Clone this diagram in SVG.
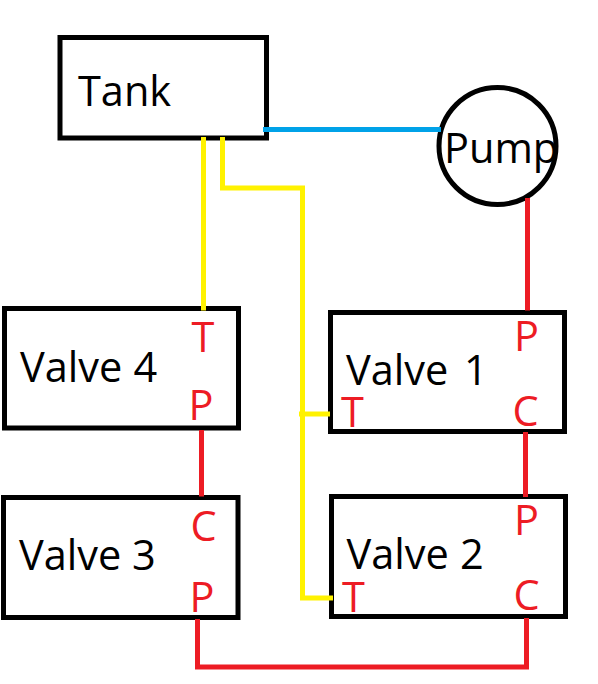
<svg xmlns="http://www.w3.org/2000/svg" width="598" height="684" viewBox="0 0 598 684">
<style>
text{font-family:"Open Sans","Noto Sans","Liberation Sans",sans-serif;font-size:41.500px}
.box{fill:#fff;stroke:#000;stroke-width:5}
.lbl{fill:#000}
.port{fill:#ed1c24}
.w{fill:none;stroke-width:5}
.y{stroke:#fff200}
.r{stroke:#ed1c24}
.b{stroke:#00a2e8}
</style>
<rect width="598" height="684" fill="#fff"/>
<g id="tank"><rect class="box" x="60" y="37.5" width="206.500" height="100.500"/><text class="lbl" x="78" y="106">Tank</text></g>
<g id="pump"><circle class="box" cx="497.500" cy="146" r="58.500"/><text class="lbl" x="444" y="163">Pump</text></g>
<g id="valve4"><rect class="box" x="4.500" y="308.500" width="234" height="119.500"/><text class="lbl" x="20" y="382">Valve <tspan x="133.500">4</tspan></text><text class="port" x="191.500" y="352">T</text><text class="port" x="188.500" y="419.500">P</text></g>
<g id="valve3"><rect class="box" x="3.500" y="497.500" width="234.500" height="120"/><text class="lbl" x="19" y="569.500">Valve <tspan x="132">3</tspan></text><text class="port" x="190.500" y="541">C</text><text class="port" x="189.500" y="612">P</text></g>
<g id="valve1"><rect class="box" x="330.500" y="312.500" width="234" height="119"/><text class="lbl" x="346" y="385">Valve <tspan x="464">1</tspan></text><text class="port" x="514" y="351">P</text><text class="port" x="341" y="427">T</text><text class="port" x="512.500" y="426">C</text></g>
<g id="valve2"><rect class="box" x="331.500" y="496.500" width="234" height="120"/><text class="lbl" x="346.500" y="569">Valve <tspan x="460">2</tspan></text><text class="port" x="514" y="535">P</text><text class="port" x="342" y="612">T</text><text class="port" x="513.500" y="610">C</text></g>
<g id="connectors">
<path class="w b" d="M263 129.500H441"/>
<path class="w y" d="M203.500 137V310.500"/>
<path class="w y" d="M222.500 137V188H302.500V598H333"/>
<path class="w y" d="M299 414H330"/>
<path class="w r" d="M527.500 198V310.500"/>
<path class="w r" d="M201.500 430V496.500"/>
<path class="w r" d="M525.500 432V497"/>
<path class="w r" d="M197.500 619V667H526.500V618"/>
</g>
</svg>
